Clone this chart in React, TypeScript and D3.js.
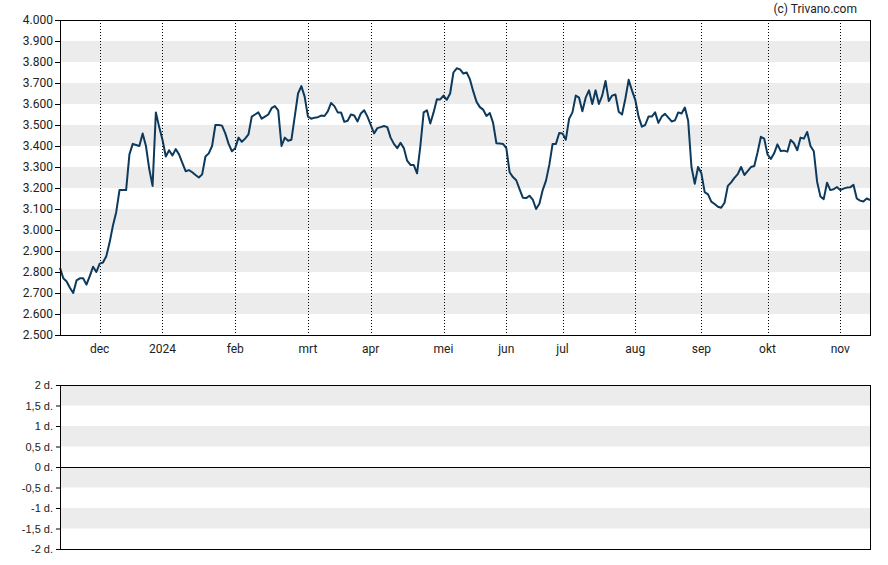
import React, { useRef, useEffect } from 'react';
import { select, scaleLinear, line, axisLeft } from 'd3';

// closing prices, one per trading day
const prices: number[] = [
  2.82, 2.77, 2.755, 2.725, 2.70, 2.76, 2.77, 2.77, 2.74, 2.78,
  2.825, 2.80, 2.84, 2.845, 2.875, 2.94, 3.02, 3.085, 3.19, 3.19,
  3.19, 3.36, 3.41, 3.405, 3.40, 3.46, 3.40, 3.29, 3.21, 3.56,
  3.49, 3.43, 3.35, 3.38, 3.355, 3.385, 3.36, 3.32, 3.28, 3.285,
  3.275, 3.262, 3.25, 3.265, 3.35, 3.365, 3.40, 3.50, 3.50, 3.497,
  3.46, 3.41, 3.375, 3.39, 3.44, 3.42, 3.435, 3.455, 3.54, 3.55,
  3.56, 3.53, 3.54, 3.55, 3.58, 3.59, 3.57, 3.40, 3.44, 3.425,
  3.43, 3.54, 3.65, 3.685, 3.635, 3.54, 3.53, 3.535, 3.537, 3.545,
  3.543, 3.565, 3.605, 3.59, 3.56, 3.56, 3.515, 3.52, 3.55, 3.545,
  3.517, 3.555, 3.57, 3.54, 3.50, 3.46, 3.485, 3.49, 3.495, 3.49,
  3.44, 3.41, 3.39, 3.415, 3.39, 3.33, 3.31, 3.31, 3.27, 3.40,
  3.56, 3.57, 3.507, 3.56, 3.623, 3.622, 3.64, 3.62, 3.65, 3.75,
  3.77, 3.765, 3.745, 3.75, 3.717, 3.66, 3.61, 3.585, 3.573, 3.543,
  3.557, 3.51, 3.413, 3.412, 3.41, 3.39, 3.275, 3.252, 3.237, 3.195,
  3.154, 3.152, 3.163, 3.145, 3.10, 3.125, 3.19, 3.235, 3.31, 3.41,
  3.41, 3.462, 3.46, 3.43, 3.53, 3.56, 3.64, 3.63, 3.565, 3.63,
  3.665, 3.60, 3.665, 3.60, 3.64, 3.71, 3.614, 3.64, 3.645, 3.563,
  3.55, 3.625, 3.715, 3.665, 3.62, 3.54, 3.492, 3.50, 3.54, 3.54,
  3.56, 3.51, 3.54, 3.553, 3.535, 3.517, 3.522, 3.56, 3.555, 3.583,
  3.52, 3.30, 3.22, 3.30, 3.27, 3.18, 3.17, 3.135, 3.124, 3.111,
  3.106, 3.13, 3.21, 3.227, 3.248, 3.266, 3.30, 3.262, 3.28, 3.30,
  3.305, 3.37, 3.444, 3.435, 3.36, 3.338, 3.365, 3.408, 3.376, 3.378,
  3.373, 3.429, 3.413, 3.38, 3.44, 3.435, 3.467, 3.40, 3.375, 3.23,
  3.16, 3.147, 3.225, 3.19, 3.194, 3.205, 3.19, 3.197, 3.202, 3.203,
  3.215, 3.15, 3.14, 3.136, 3.15, 3.143,
];

const monthLabels = ['dec', '2024', 'feb', 'mrt', 'apr', 'mei', 'jun', 'jul', 'aug', 'sep', 'okt', 'nov'];
const monthIndex = [12, 31, 53, 75, 94, 116, 135, 152, 174, 194, 214, 236];

const priceTicks = [4.0, 3.9, 3.8, 3.7, 3.6, 3.5, 3.4, 3.3, 3.2, 3.1, 3.0, 2.9, 2.8, 2.7, 2.6, 2.5];
const dayTicks = [2, 1.5, 1, 0.5, 0, -0.5, -1, -1.5, -2];

const dims = {
  width: 888,
  height: 565,
  left: 60,
  right: 870,
  top: 20,
  bottom: 335,
  subTop: 385,
  subBottom: 549,
};

const App = () => {
  const svgRef = useRef(null);

  useEffect(() => {
    const svg = select(svgRef.current);
    svg.selectAll('*').remove();

    const xScale = scaleLinear()
      .domain([0, prices.length - 1])
      .range([dims.left, dims.right]);
    const yScale = scaleLinear().domain([2.5, 4.0]).range([dims.bottom, dims.top]);
    const dScale = scaleLinear().domain([-2, 2]).range([dims.subBottom, dims.subTop]);

    // main panel bands
    const bands = svg.append('g');
    priceTicks.slice(0, -1).forEach((t, i) => {
      if (i % 2 === 1) {
        bands
          .append('rect')
          .attr('x', dims.left)
          .attr('width', dims.right - dims.left)
          .attr('y', yScale(t))
          .attr('height', yScale(priceTicks[i + 1]) - yScale(t))
          .attr('fill', '#ececec');
      }
    });
    dayTicks.slice(0, -1).forEach((t, i) => {
      if (i % 2 === 0) {
        bands
          .append('rect')
          .attr('x', dims.left)
          .attr('width', dims.right - dims.left)
          .attr('y', dScale(t))
          .attr('height', dScale(dayTicks[i + 1]) - dScale(t))
          .attr('fill', '#ececec');
      }
    });

    // month grid lines
    svg
      .append('g')
      .selectAll('line')
      .data(monthIndex)
      .join('line')
      .attr('x1', (d) => Math.round(xScale(d)) + 0.5)
      .attr('x2', (d) => Math.round(xScale(d)) + 0.5)
      .attr('y1', dims.top)
      .attr('y2', dims.bottom)
      .attr('stroke', '#000')
      .attr('stroke-width', 1)
      .attr('stroke-dasharray', '1,2');

    svg
      .append('g')
      .selectAll('text')
      .data(monthIndex)
      .join('text')
      .attr('x', (d) => xScale(d))
      .attr('y', dims.bottom + 18)
      .attr('text-anchor', 'middle')
      .attr('font-family', 'Roboto, sans-serif')
      .attr('font-size', 12)
      .attr('fill', '#222')
      .text((_, i) => monthLabels[i]);

    // price line
    const priceLine = line<number>()
      .x((_, i) => xScale(i))
      .y((d) => yScale(d));
    svg
      .append('path')
      .datum(prices)
      .attr('d', priceLine)
      .attr('fill', 'none')
      .attr('stroke', '#0d3a5c')
      .attr('stroke-width', 2)
      .attr('stroke-linejoin', 'round');

    // axes
    const yAxis = axisLeft(yScale)
      .tickValues(priceTicks)
      .tickSize(5)
      .tickSizeOuter(0)
      .tickPadding(2)
      .tickFormat((d) => (d as number).toFixed(3));
    const yAxisGroup = svg.append('g').attr('transform', `translate(${dims.left},0)`).call(yAxis);
    yAxisGroup.select('.domain').remove();
    yAxisGroup
      .selectAll('text')
      .attr('font-family', 'Roboto, sans-serif')
      .attr('font-size', 12)
      .attr('fill', '#222');

    const dAxis = axisLeft(dScale)
      .tickValues(dayTicks)
      .tickSize(4)
      .tickSizeOuter(0)
      .tickPadding(3)
      .tickFormat((d) => `${String(d).replace('.', ',')} d.`);
    const dAxisGroup = svg.append('g').attr('transform', `translate(${dims.left},0)`).call(dAxis);
    dAxisGroup.select('.domain').remove();
    dAxisGroup
      .selectAll('text')
      .attr('font-family', '"Liberation Sans", Arial, sans-serif')
      .attr('font-size', 11)
      .attr('fill', '#222');

    // zero line
    svg
      .append('line')
      .attr('x1', dims.left)
      .attr('x2', dims.right)
      .attr('y1', Math.round(dScale(0)) + 0.5)
      .attr('y2', Math.round(dScale(0)) + 0.5)
      .attr('stroke', '#000');

    // frames
    svg
      .append('rect')
      .attr('x', dims.left + 0.5)
      .attr('y', dims.top + 0.5)
      .attr('width', dims.right - dims.left)
      .attr('height', dims.bottom - dims.top)
      .attr('fill', 'none')
      .attr('stroke', '#000');
    svg
      .append('rect')
      .attr('x', dims.left + 0.5)
      .attr('y', dims.subTop + 0.5)
      .attr('width', dims.right - dims.left)
      .attr('height', dims.subBottom - dims.subTop)
      .attr('fill', 'none')
      .attr('stroke', '#000');

    svg
      .append('text')
      .attr('x', 857)
      .attr('y', 13)
      .attr('text-anchor', 'end')
      .attr('font-family', 'Roboto, sans-serif')
      .attr('font-size', 12)
      .attr('fill', '#222')
      .text('(c) Trivano.com');
  }, []);

  return (
    <svg
      ref={svgRef}
      width={dims.width}
      height={dims.height}
      style={{ position: 'absolute', left: 0, top: 0, background: '#fff' }}
    ></svg>
  );
};

export default App;
